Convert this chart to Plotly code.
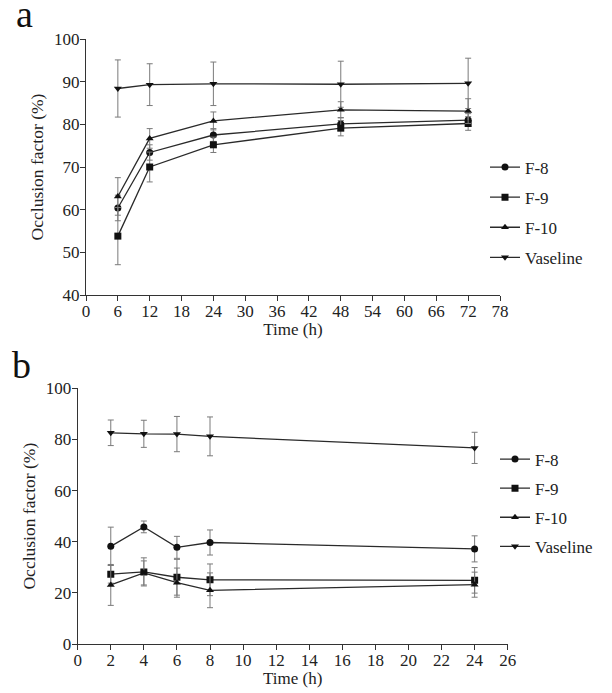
import plotly.graph_objects as go

# ---- Panel a data ----
time_a = [6, 12, 24, 48, 72]
f8_a = [60.4, 73.4, 77.5, 80.1, 81.0]
f8_a_err = [3.0, 1.8, 1.5, 1.5, 1.5]
f9_a = [53.8, 70.0, 75.2, 79.1, 80.2]
f9_a_err = [6.7, 3.5, 1.8, 1.8, 1.6]
f10_a = [63.1, 76.7, 80.8, 83.4, 83.1]
f10_a_err = [4.4, 2.3, 2.1, 1.9, 2.9]
vas_a = [88.4, 89.3, 89.5, 89.4, 89.6]
vas_a_err = [6.7, 4.9, 5.1, 5.4, 5.9]

# ---- Panel b data ----
time_b = [2, 4, 6, 8, 24]
f8_b = [38.2, 45.8, 37.8, 39.7, 37.2]
f8_b_err = [7.5, 2.3, 4.3, 4.9, 5.1]
f9_b = [27.3, 28.2, 26.1, 25.1, 24.9]
f9_b_err = [3.5, 5.5, 7.0, 6.2, 5.0]
f10_b = [23.1, 27.8, 24.0, 21.0, 23.2]
f10_b_err = [8.0, 4.7, 5.7, 6.8, 4.9]
vas_b = [82.6, 82.2, 82.1, 81.2, 76.7]
vas_b_err = [5.0, 5.3, 6.9, 7.6, 6.1]

names = ["F-8", "F-9", "F-10", "Vaseline"]
symbols = ["circle", "square", "triangle-up", "triangle-down"]
sizes = [7, 7, 7, 7]

LINE = "#2a2a2a"
ERR = "#7a7a7a"
FONT = "Liberation Serif"

fig = go.Figure()

panel_a = [(f8_a, f8_a_err), (f9_a, f9_a_err), (f10_a, f10_a_err), (vas_a, vas_a_err)]
panel_b = [(f8_b, f8_b_err), (f9_b, f9_b_err), (f10_b, f10_b_err), (vas_b, vas_b_err)]

for i, (y, e) in enumerate(panel_a):
    fig.add_trace(go.Scatter(
        x=time_a, y=y, name=names[i], mode="lines+markers",
        line=dict(color=LINE, width=1.3),
        marker=dict(symbol=symbols[i], size=sizes[i], color="#111"),
        error_y=dict(type="data", array=e, visible=True, color=ERR, thickness=1, width=3),
        xaxis="x", yaxis="y", legend="legend", legendgroup="a" + str(i),
    ))

for i, (y, e) in enumerate(panel_b):
    fig.add_trace(go.Scatter(
        x=time_b, y=y, name=names[i], mode="lines+markers",
        line=dict(color=LINE, width=1.3),
        marker=dict(symbol=symbols[i], size=sizes[i], color="#111"),
        error_y=dict(type="data", array=e, visible=True, color=ERR, thickness=1, width=3),
        xaxis="x2", yaxis="y2", legend="legend2", legendgroup="b" + str(i),
    ))

W, H = 612, 693
OFF = 8  # page body margin offset of the rendered figure

def px_x(p):
    return (p - OFF) / W

def px_y(p):
    return 1 - (p - OFF) / H

axis_common = dict(
    showline=True, linecolor="#333", linewidth=1.2, ticks="outside", ticklen=5,
    tickcolor="#333", tickwidth=1.2, showgrid=False, zeroline=False, automargin=False,
    tickfont=dict(family=FONT, size=17, color="#222"),
)
xtitle_font = dict(family=FONT, size=17, color="#222")
ytitle_font = dict(family=FONT, size=17.5, color="#222")

fig.update_layout(
    width=W, height=H,
    margin=dict(l=0, r=0, t=0, b=0, autoexpand=False),
    paper_bgcolor="white", plot_bgcolor="white",
    showlegend=True,
    xaxis=dict(domain=[px_x(86), px_x(500)], range=[0, 78], tickmode="linear", tick0=0, dtick=6,
               anchor="y", ticklabelstandoff=-5,
               title=dict(text="Time (h)", standoff=0, font=xtitle_font), **axis_common),
    yaxis=dict(domain=[px_y(295), px_y(39)], range=[40, 100], tickmode="linear", tick0=40, dtick=10,
               anchor="x", ticklabelstandoff=-3,
               title=dict(text="Occlusion factor (%)", standoff=5, font=ytitle_font), **axis_common),
    xaxis2=dict(domain=[px_x(77.7), px_x(507.7)], range=[0, 26], tickmode="linear", tick0=0, dtick=2,
                anchor="y2", ticklabelstandoff=-5,
                title=dict(text="Time (h)", standoff=0, font=xtitle_font), **axis_common),
    yaxis2=dict(domain=[px_y(644), px_y(388.3)], range=[0, 100], tickmode="linear", tick0=0, dtick=20,
                anchor="x2", ticklabelstandoff=-3,
                title=dict(text="Occlusion factor (%)", standoff=5, font=ytitle_font), **axis_common),
    legend=dict(x=px_x(485), y=px_y(149.5), xanchor="left", yanchor="top",
                font=dict(family=FONT, size=17, color="#222"), itemwidth=30,
                traceorder="grouped", tracegroupgap=5, bgcolor="rgba(0,0,0,0)"),
    legend2=dict(x=px_x(495), y=px_y(441.5), xanchor="left", yanchor="top",
                 font=dict(family=FONT, size=17, color="#222"), itemwidth=30,
                 traceorder="grouped", tracegroupgap=4, bgcolor="rgba(0,0,0,0)"),
    annotations=[
        dict(text="a", x=px_x(14), y=px_y(14), xref="paper", yref="paper", showarrow=False,
             xanchor="left", yanchor="middle", font=dict(family=FONT, size=38, color="#111")),
        dict(text="b", x=px_x(10), y=px_y(365), xref="paper", yref="paper", showarrow=False,
             xanchor="left", yanchor="middle", font=dict(family=FONT, size=38, color="#111")),
    ],
)

fig.write_html("out.html")
